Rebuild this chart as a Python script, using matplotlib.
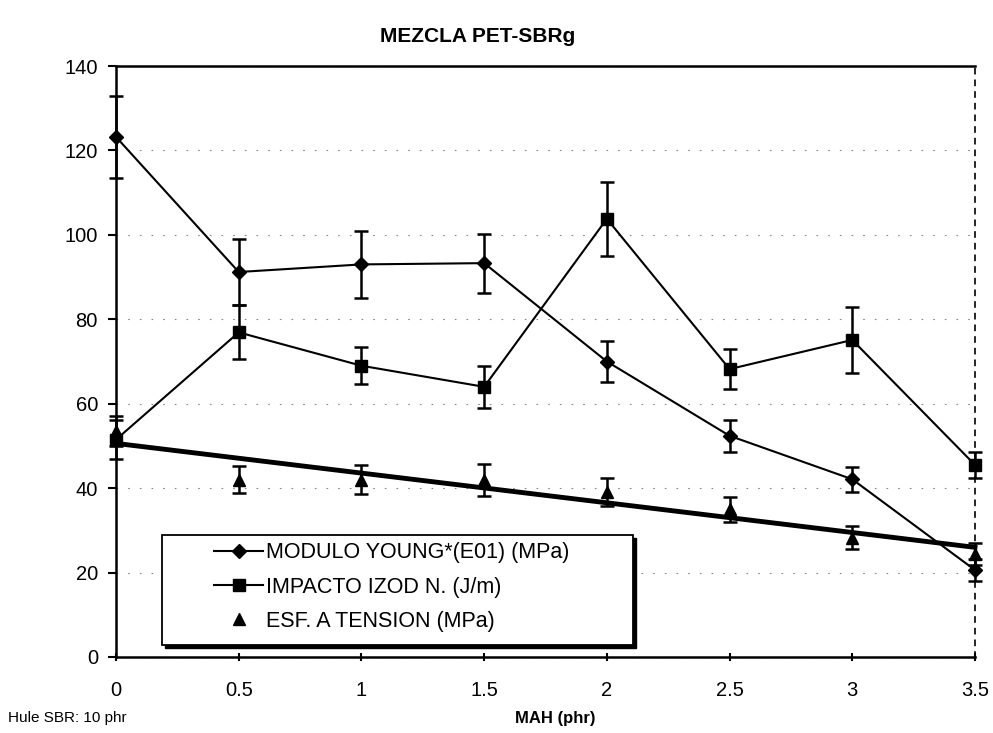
import numpy as np
import matplotlib
matplotlib.use("Agg")
import matplotlib.pyplot as plt
from matplotlib.lines import Line2D
from matplotlib.patches import Rectangle

plt.rcParams['font.family'] = ['Liberation Sans', 'DejaVu Sans']

# datos
mah = [0, 0.5, 1, 1.5, 2, 2.5, 3, 3.5]
young = [123.2, 91.2, 93.0, 93.3, 70.0, 52.4, 42.1, 20.6]
young_err = [9.7, 7.8, 8.0, 7.0, 4.8, 3.8, 3.0, 2.6]
izod = [51.5, 76.9, 69.0, 64.0, 103.8, 68.2, 75.1, 45.5]
izod_err = [4.6, 6.4, 4.4, 4.9, 8.8, 4.8, 7.9, 3.0]
esf = [53.5, 42.0, 42.0, 42.0, 39.0, 35.0, 28.3, 24.5]
esf_err = [3.5, 3.2, 3.5, 3.8, 3.3, 3.0, 2.7, 2.6]
etiquetas = ['MODULO YOUNG*(E01) (MPa)', 'IMPACTO IZOD N. (J/m)', 'ESF. A TENSION (MPa)']

fig = plt.figure(figsize=(9.93, 7.33), dpi=100)
ax = fig.add_axes([116/993, 76/733, 859/993, 591/733])

ebs = []
ebs.append(ax.errorbar(mah, young, yerr=young_err, color='black', marker='D', markersize=7,
                       linewidth=1.5, elinewidth=1.8, capsize=5, capthick=1.8, zorder=3))
ebs.append(ax.errorbar(mah, izod, yerr=izod_err, color='black', marker='s', markersize=9,
                       linewidth=1.5, elinewidth=1.8, capsize=5, capthick=1.8, zorder=3))
ebs.append(ax.errorbar(mah, esf, yerr=esf_err, color='black', marker='^', markersize=9,
                       linestyle='none', elinewidth=1.8, capsize=5, capthick=1.8, zorder=3))
for eb in ebs:
    for art in eb.get_children():
        art.set_clip_on(False)

# linea de tendencia lineal del esfuerzo
m, b = np.polyfit(mah, esf, 1)
xs = np.array([mah[0], mah[-1]])
ax.plot(xs, m * xs + b, color='black', linewidth=3.5, zorder=2, clip_on=False)

ax.set_xlim(0, 3.5)
ax.set_ylim(0, 140)
ax.set_xticks(mah)
ax.set_xticklabels(['0', '0.5', '1', '1.5', '2', '2.5', '3', '3.5'])
ax.set_yticks(range(0, 141, 20))
ax.tick_params(axis='both', labelsize=14.5, width=1.5, length=6)
ax.tick_params(axis='x', direction='inout', pad=14)
ax.tick_params(axis='y', pad=7)
ax.yaxis.grid(True, linestyle=(0, (1.5, 9)), color='#888888', linewidth=0.8)

for s in ['left', 'bottom', 'top']:
    ax.spines[s].set_linewidth(1.8)
ax.spines['right'].set_linestyle((0, (3, 4)))
ax.spines['right'].set_linewidth(1.2)

# caja de la leyenda con sombra
x0, x1 = (162 - 116) / 859, (633 - 116) / 859
y0, y1 = (657 - 645) / 591, (657 - 535) / 591
sombra = Rectangle((x0 + 3 / 859, y0 - 3 / 591), x1 - x0, y1 - y0, transform=ax.transAxes,
                   facecolor='black', edgecolor='black', zorder=4)
caja = Rectangle((x0, y0), x1 - x0, y1 - y0, transform=ax.transAxes,
                 facecolor='white', edgecolor='black', linewidth=1.3, zorder=5)
ax.add_patch(sombra)
ax.add_patch(caja)

handles = [Line2D([], [], color='black', marker='D', markersize=7, linewidth=1.5),
           Line2D([], [], color='black', marker='s', markersize=9, linewidth=1.5),
           Line2D([], [], color='black', marker='^', markersize=9, linestyle='none')]
leg = ax.legend(handles, etiquetas, loc='center',
                bbox_to_anchor=((x0 + x1) / 2 - 6 / 859, (y0 + y1) / 2 + 3 / 591),
                fontsize=15.5, frameon=False, handlelength=2.3, handletextpad=0.1,
                borderpad=0.2, labelspacing=0.62)
leg.set_zorder(6)

fig.text(478/993, 1 - 36/733, 'MEZCLA PET-SBRg', ha='center', va='center',
         fontsize=15, fontweight='bold')
fig.text(555/993, 1 - 718/733, 'MAH (phr)', ha='center', va='center',
         fontsize=12, fontweight='bold')
fig.text(8/993, 1 - 718/733, 'Hule SBR: 10 phr', ha='left', va='center',
         fontsize=11)

fig.savefig('out.png', dpi=100)
